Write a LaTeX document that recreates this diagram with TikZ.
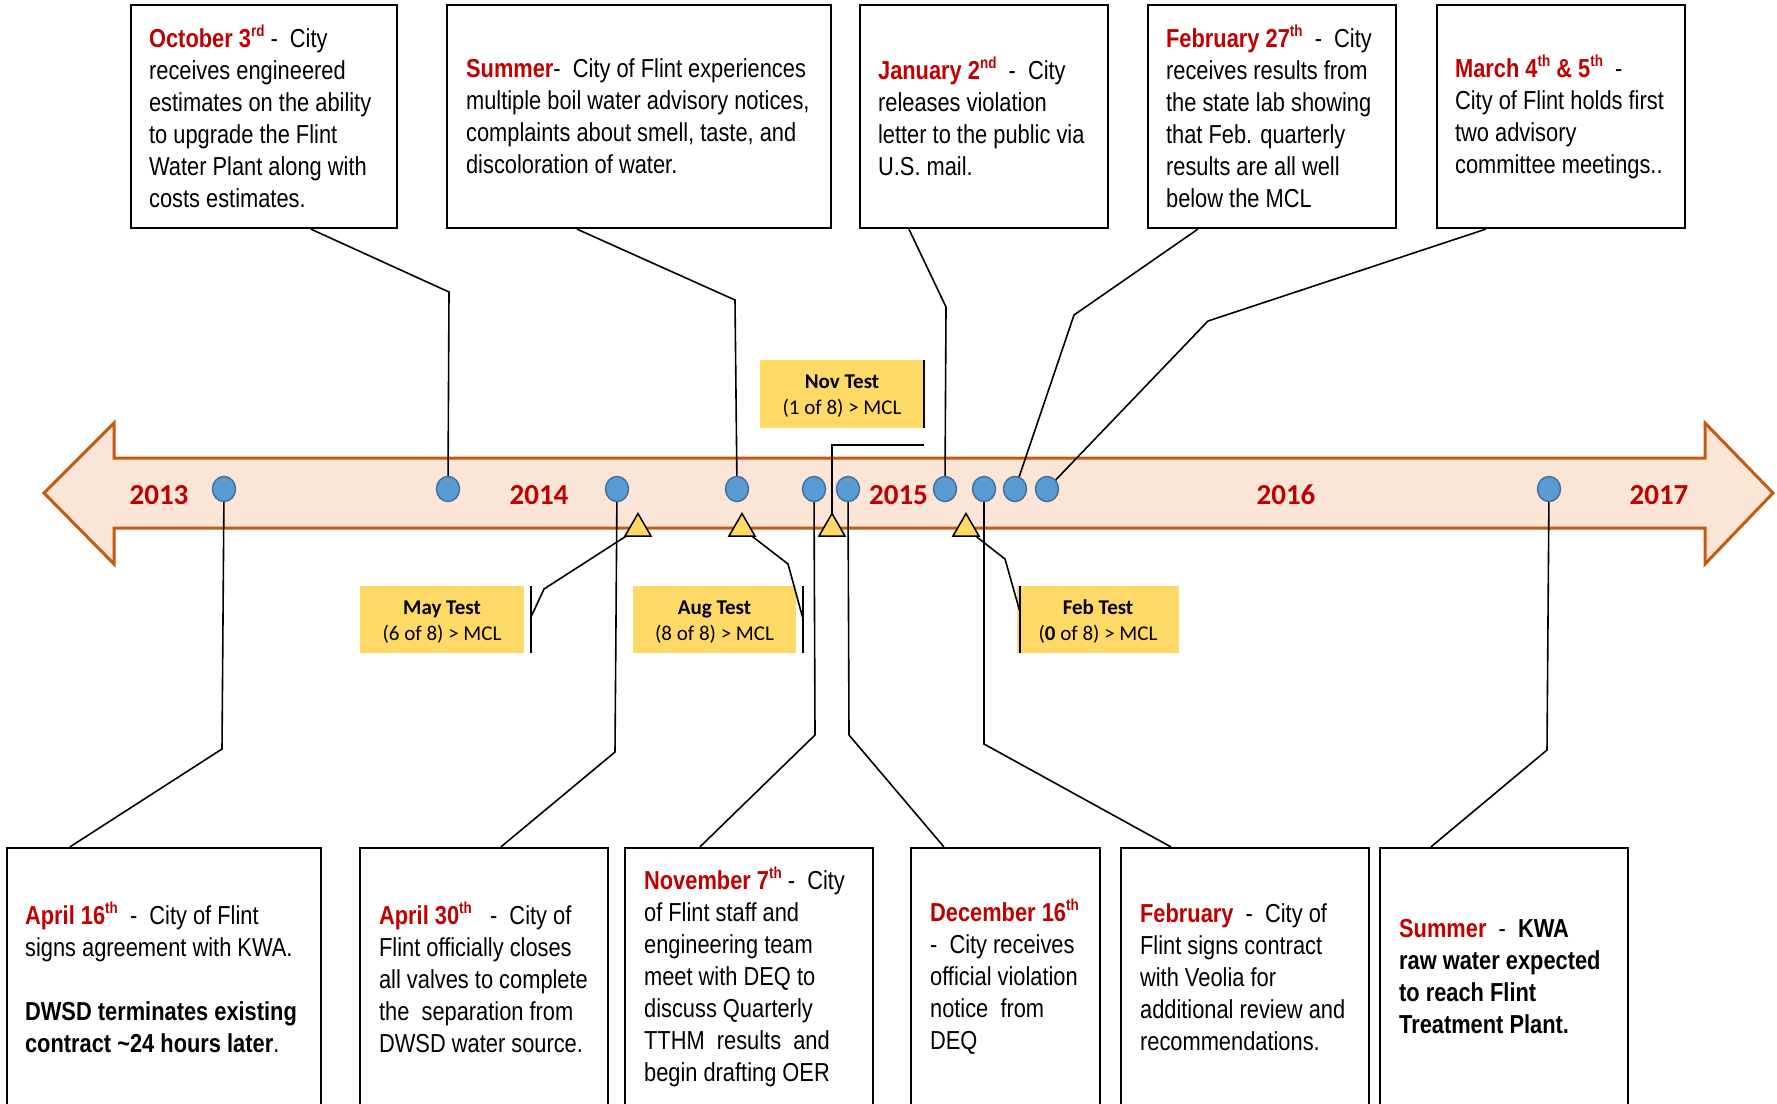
\documentclass[tikz,border=0pt]{standalone}
\usepackage{fontspec}
\newfontfamily\bodyfont{Liberation Sans}[FakeStretch=0.84]
\newfontfamily\calfont{Carlito}
\usetikzlibrary{calc,shapes.geometric}
\definecolor{datered}{HTML}{C00000}
\definecolor{bandfill}{HTML}{FBE5D6}
\definecolor{banddraw}{HTML}{C55A11}
\definecolor{dotfill}{HTML}{5B9BD5}
\definecolor{dotdraw}{HTML}{41719C}
\definecolor{testfill}{HTML}{FFD966}
\newcommand{\supx}[1]{\raisebox{0.42em}{\fontsize{16}{16}\selectfont #1}}
\newcommand{\dt}[1]{\textcolor{datered}{\textbf{#1}}}
\begin{document}
\begin{tikzpicture}[x=1pt,y=-1pt,
  evbox/.style={draw=black, line width=2.2pt, rectangle, inner sep=0pt, fill=white},
  evtext/.style={anchor=west, align=left, inner sep=0pt, font=\bodyfont\fontsize{26}{32}\selectfont},
  conn/.style={draw=black, line width=1.6pt},
  evdot/.style={ellipse, draw=dotdraw, line width=1.5pt, fill=dotfill, minimum width=23pt, minimum height=25pt, inner sep=0pt},
  testtri/.style={regular polygon, regular polygon sides=3, draw=black, line width=1.5pt, fill=testfill, minimum size=30pt, inner sep=0pt},
  testbox/.style={fill=testfill, inner sep=0pt},
  testlbl/.style={inner sep=0pt, align=center, font=\calfont\fontsize{21}{26}\selectfont},
  yearlbl/.style={text=datered, font=\calfont\bfseries\fontsize{29}{34}\selectfont, inner sep=0pt},
]
\useasboundingbox (0,0) rectangle (1777,1103);
\fill[white] (0,0) rectangle (1777,1103);
\clip (0,0) rectangle (1777,1103);

% timeline arrow
\filldraw[fill=bandfill, draw=banddraw, line width=3pt]
  (44,493) -- (114,423) -- (114,458) -- (1705,458) -- (1705,423) -- (1773,493)
  -- (1705,564) -- (1705,528) -- (114,528) -- (114,564) -- cycle;

% top boxes
\node[evbox, minimum width=266pt, minimum height=223pt] (octbox) at (264,116.5) {};
\node[evbox, minimum width=384pt, minimum height=223pt] (sumbox) at (639,116.5) {};
\node[evbox, minimum width=248pt, minimum height=223pt] (janbox) at (984,116.5) {};
\node[evbox, minimum width=248pt, minimum height=223pt] (febbox) at (1272,116.5) {};
\node[evbox, minimum width=248pt, minimum height=223pt] (marbox) at (1561,116.5) {};

% bottom boxes
\node[evbox, minimum width=314pt, minimum height=258pt] (aprAbox) at (164,977) {};
\node[evbox, minimum width=248pt, minimum height=258pt] (aprBbox) at (484,977) {};
\node[evbox, minimum width=248pt, minimum height=258pt] (novbox) at (749,977) {};
\node[evbox, minimum width=189pt, minimum height=258pt] (decbox) at (1005.5,977) {};
\node[evbox, minimum width=248pt, minimum height=258pt] (febBbox) at (1245,977) {};
\node[evbox, minimum width=248pt, minimum height=258pt] (kwabox) at (1504,977) {};

% dots
\coordinate (d1) at (224,489);
\coordinate (d2) at (448,489);
\coordinate (d3) at (617,489);
\coordinate (d4) at (737,489);
\coordinate (d5) at (814,489);
\coordinate (d6) at (848,489);
\coordinate (d7) at (945,489);
\coordinate (d8) at (984,489);
\coordinate (d9) at (1015,489);
\coordinate (d10) at (1047,489);
\coordinate (d11) at (1549,489);

% triangles
\coordinate (t1) at (638,528.5);
\coordinate (t2) at (742,528.5);
\coordinate (t3) at (832,528.5);
\coordinate (t4) at (966,528.5);

% test boxes
\node[testbox, minimum width=164pt, minimum height=67pt] (maytest) at (442,619.5) {};
\node[testbox, minimum width=163pt, minimum height=67pt] (augtest) at (714.5,619.5) {};
\node[testbox, minimum width=164pt, minimum height=68pt] (novtest) at (842,394) {};
\node[testbox, minimum width=162pt, minimum height=67pt] (febtest) at (1098,619.5) {};
\node[testlbl] (maylbl) at ($(maytest.center)+(0,2.5)$) {\textbf{May Test}\\(6 of 8) > MCL};
\node[testlbl] (auglbl) at ($(augtest.center)+(0,2.5)$) {\textbf{Aug Test}\\(8 of 8) > MCL};
\node[testlbl] (novlbl) at ($(novtest.center)+(0,2.5)$) {\textbf{Nov Test}\\(1 of 8) > MCL};
\node[testlbl] (feblbl) at ($(febtest.center)+(0,2.5)$) {\textbf{Feb Test}\\(\textbf{0} of 8) > MCL};

% connectors top
\draw[conn] ($(octbox.south west)+(181,0)$) -- (449,292) -- (d2);
\draw[conn] ($(sumbox.south west)+(131,0)$) -- (735,300) -- (d4);
\draw[conn] ($(janbox.south west)+(50,0)$) -- (946,307) -- (d7);
\draw[conn] ($(febbox.south west)+(51,0)$) -- (1074,315) -- (d9);
\draw[conn] ($(marbox.south west)+(50,0)$) -- (1208,321) -- (d10);

% connectors bottom
\draw[conn] (d1) -- (222,749) -- ($(aprAbox.north west)+(64,0)$);
\draw[conn] (d3) -- (615,752) -- ($(aprBbox.north west)+(142,0)$);
\draw[conn] (d5) -- (815,735) -- ($(novbox.north west)+(76,0)$);
\draw[conn] (d6) -- (849,735) -- ($(decbox.north west)+(34,0)$);
\draw[conn] (d8) -- (984,744) -- ($(febBbox.north west)+(51,0)$);
\draw[conn] (d11) -- (1547,750) -- ($(kwabox.north west)+(52,0)$);

% test connectors
\draw[conn] (t1) -- (544,589) -- (531,617);
\draw[conn] ($(maytest.north east)+(7,0)$) -- ($(maytest.south east)+(7,0)$);
\draw[conn] (t2) -- (788,564) -- (802.5,617);
\draw[conn] ($(augtest.north east)+(6.5,0)$) -- ($(augtest.south east)+(6.5,0)$);
\draw[conn] (t3) |- ($(novtest.south east)+(0,17)$);
\draw[conn] (novtest.north east) -- (novtest.south east);
\draw[conn] (t4) -- (1005,559) -- (1020,612);
\draw[conn] ($(febtest.north west)+(3,0)$) -- ($(febtest.south west)+(3,0)$);

% dot and triangle shapes
\foreach \d in {d1,d2,d3,d4,d5,d6,d7,d8,d9,d10,d11}
  \node[evdot] (dot\d) at (\d) {};
\foreach \t in {t1,t2,t3,t4}
  \node[testtri] (tri\t) at (\t) {};

% years
\node[yearlbl] (y2013) at (159,495) {2013};
\node[yearlbl] (y2014) at (539,495) {2014};
\node[yearlbl] (y2015) at (898.5,495) {2015};
\node[yearlbl] (y2016) at (1286,495) {2016};
\node[yearlbl] (y2017) at (1659,495) {2017};

% texts top
\node[evtext] (octtext) at ($(octbox.west)+(19,0)$) {\dt{October 3\supx{rd}} -\ \ City\\receives engineered\\estimates on the ability\\to upgrade the Flint\\Water Plant along with\\costs estimates.};
\node[evtext] (sumtext) at ($(sumbox.west)+(20,0)$) {\dt{Summer}-\ \ City of Flint experiences\\multiple boil water advisory notices,\\complaints about smell, taste, and\\discoloration of water.};
\node[evtext] (jantext) at ($(janbox.west)+(19,0)$) {\dt{January 2\supx{nd}}\ \ -\ \ City\\releases violation\\letter to the public via\\U.S. mail.};
\node[evtext] (febtext) at ($(febbox.west)+(19,0)$) {\dt{February 27\supx{th}}\ \ -\ \ City\\receives results from\\the state lab showing\\that Feb. quarterly\\results are all well\\below the MCL};
\node[evtext] (martext) at ($(marbox.west)+(19,0)$) {\dt{March 4\supx{th} \& 5\supx{th}}\ \ -\\City of Flint holds first\\two advisory\\committee meetings..};

% texts bottom
\node[evtext] (aprAtext) at ($(aprAbox.west)+(19,0)$) {\dt{April 16\supx{th}}\ \ -\ \ City of Flint\\signs agreement with KWA.\\[32pt]\textbf{DWSD terminates existing}\\\textbf{contract \textasciitilde24 hours later}.};
\node[evtext] (aprBtext) at ($(aprBbox.west)+(20,0)$) {\dt{April 30\supx{th}}\ \ \ -\ \ City of\\Flint officially closes\\all valves to complete\\the\ \ separation from\\DWSD water source.};
\node[evtext] (novtext) at ($(novbox.west)+(20,0)$) {\dt{November 7\supx{th}} -\ \ City\\of Flint staff and\\engineering team\\meet with DEQ to\\discuss Quarterly\\TTHM\ \ results\ \ and\\begin drafting OER};
\node[evtext] (dectext) at ($(decbox.west)+(20,0)$) {\dt{December 16\supx{th}}\\-\ \ City receives\\official violation\\notice\ \ from\\DEQ};
\node[evtext] (febBtext) at ($(febBbox.west)+(20,0)$) {\dt{February}\ \ -\ \ City of\\Flint signs contract\\with Veolia for\\additional review and\\recommendations.};
\node[evtext] (kwatext) at ($(kwabox.west)+(20,0)$) {\dt{Summer}\ \ -\ \ \textbf{KWA}\\\textbf{raw water expected}\\\textbf{to reach Flint}\\\textbf{Treatment Plant.}};
\end{tikzpicture}
\end{document}
